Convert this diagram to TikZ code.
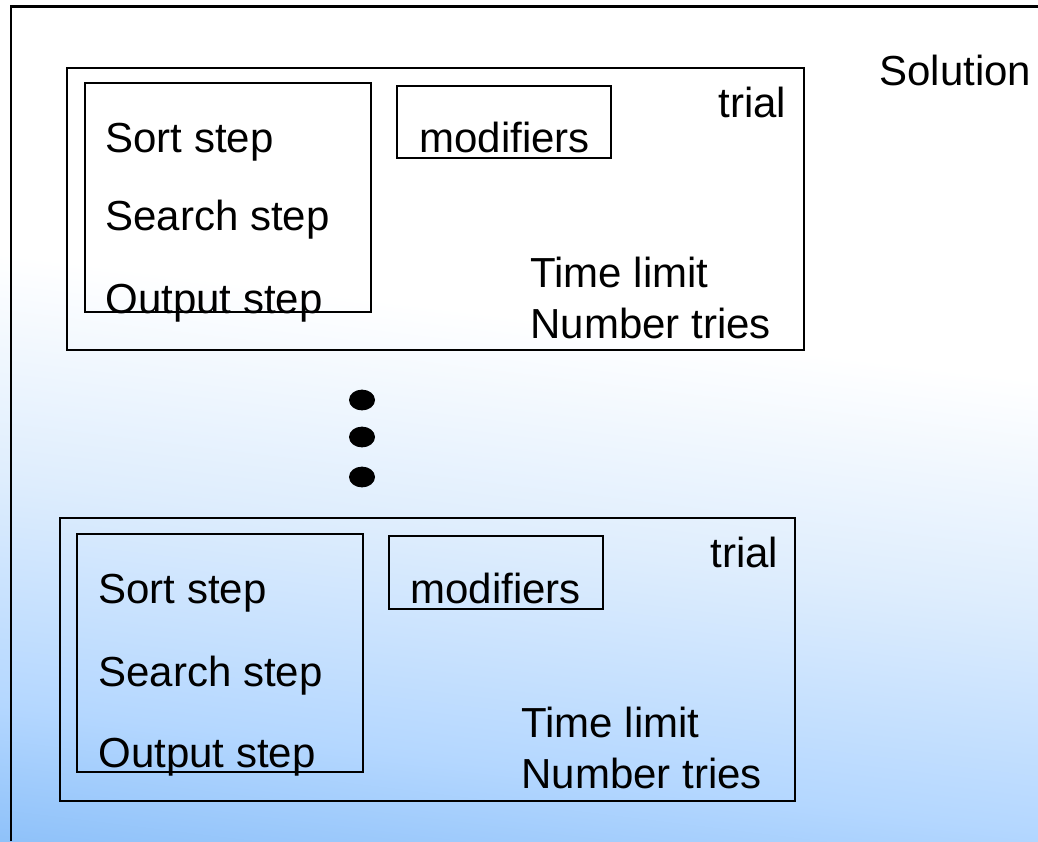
\documentclass[tikz,border=0pt]{standalone}
\usepackage{fontspec}
\setmainfont{Liberation Sans}
\usepackage{tikz}
\usetikzlibrary{positioning}
\definecolor{skydeep}{RGB}{142,193,249}
\definecolor{skymid}{RGB}{180,215,255}
\definecolor{skypale}{RGB}{222,237,253}
\pgfdeclareverticalshading{skyfade}{100bp}{color(0bp)=(skydeep); color(22bp)=(skydeep); color(30bp)=(skymid); color(43bp)=(skypale); color(56bp)=(white); color(100bp)=(white)}

\begin{document}
\begin{tikzpicture}[x=0.5pt,y=-0.5pt,
    label/.style={anchor=base west,inner sep=0pt,font=\fontsize{21}{25}\selectfont},
    trialbox/.style={line width=1.2pt},
    stepbox/.style={line width=1pt}]
  \useasboundingbox (0,0) rectangle (1038,841);
  \shade[shading=skyfade,shading angle=-7] (0,0) rectangle (1038,841);
  \draw[line width=1.1pt] (11,841) |- (1038,6.5);
  \node[label] (solution) at (879,85) {Solution};
  % first trial
  \draw[trialbox] (67,68) rectangle (804,350);
  \draw[stepbox] (85,83) rectangle (371,312);
  \draw[stepbox] (397,86) rectangle (611,158);
  \node[label] (trialA) at (718,117) {trial};
  \node[label] (modA) at (419,152) {modifiers};
  \node[label] (sortA) at (105,152) {Sort step};
  \node[label] (searchA) at (105,230) {Search step};
  \node[label] (outputA) at (105,313) {Output step};
  \node[label] (timeA) at (530,287) {Time limit};
  \node[label] (triesA) at (530,338) {Number tries};
  \foreach \y in {400,437,477}
    \fill (362,\y) ellipse[x radius=6.5pt,y radius=5.2pt];
  % last trial
  \draw[trialbox] (60,518) rectangle (795,801);
  \draw[stepbox] (77,534) rectangle (363,772);
  \draw[stepbox] (389,536) rectangle (603,609);
  \node[label] (trialB) at (710,567) {trial};
  \node[label] (modB) at (410,603) {modifiers};
  \node[label] (sortB) at (98,603) {Sort step};
  \node[label] (searchB) at (98,686) {Search step};
  \node[label] (outputB) at (98,767) {Output step};
  \node[label] (timeB) at (521,737) {Time limit};
  \node[label] (triesB) at (521,788) {Number tries};
\end{tikzpicture}
\end{document}
